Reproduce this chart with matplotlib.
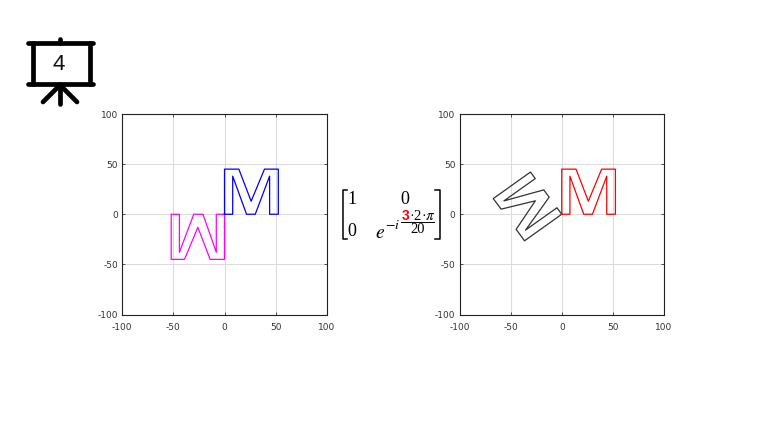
import numpy as np
import matplotlib.pyplot as plt

plt.switch_backend('Agg')
plt.rcParams['mathtext.fontset'] = 'stix'

# Outlines
m_x = [0, 0, 14, 26, 39, 52.5, 52.5, 44, 44, 30, 21.5, 8, 8, 0]
m_y = [0, 45, 45, 13, 45, 45, 0, 0, 38, 0, 0, 38, 0, 0]
w_x = [0, 0, -14, -26, -39, -52, -52, -44, -44, -30, -21, -8, -8, 0]
w_y = [0, -45, -45, -13, -45, -45, 0, 0, -38, 0, 0, -38, 0, 0]
rot_x = [0, -36.4, -44.6, -25.8, -59.3, -67, -30.6, -25.9, -56.6, -17.6, -12.3, -35.4, -4.7, 0]
rot_y = [0, -26.5, -15.1, 13.4, 5.1, 15.6, 42.1, 35.6, 13.3, 24.3, 17, -15.8, 6.5, 0]

ticks = [-100, -50, 0, 50, 100]
tick_labels = ['-100', '-50', '0', '50', '100']

W, H = 759, 426
fig = plt.figure(figsize=(W / 100, H / 100), dpi=100)


def make_axes(x0, x1, y0, y1):
    ax = fig.add_axes([x0 / W, 1 - y1 / H, (x1 - x0) / W, (y1 - y0) / H])
    ax.set_xlim(-100, 100)
    ax.set_ylim(-100, 100)
    ax.set_xticks(ticks)
    ax.set_yticks(ticks)
    ax.set_xticklabels(tick_labels)
    ax.set_yticklabels(tick_labels)
    ax.tick_params(direction='in', top=True, right=True, length=2.2, width=0.6,
                   labelsize=6.5, pad=3, colors='#333333')
    ax.tick_params(axis='x', pad=6)
    ax.grid(True, color='#dcdcdc', linewidth=0.8)
    ax.set_axisbelow(True)
    for s in ax.spines.values():
        s.set_linewidth(0.8)
        s.set_color('#222222')
    return ax


ax1 = make_axes(122, 327, 114, 314.5)
ax1.plot(w_x, w_y, color='#ff00ff', lw=0.9, solid_joinstyle='round')
ax1.plot(m_x, m_y, color='#0000ff', lw=0.9, solid_joinstyle='round')

ax2 = make_axes(459.5, 664, 114, 314.5)
ax2.plot(rot_x, rot_y, color='#333333', lw=0.9, solid_joinstyle='round')
ax2.plot(m_x, m_y, color='#ff0000', lw=0.9, solid_joinstyle='round')

# Overlay in pixel coordinates for the icon and the matrix
ov = fig.add_axes([0, 0, 1, 1], facecolor='none')
ov.set_xlim(0, W)
ov.set_ylim(H, 0)
ov.axis('off')

# Presentation board icon
lw = 3.4
for xs, ys in [([28, 93], [43, 43]), ([28, 93], [83.5, 83.5]),
               ([32.5, 32.5], [43, 83.5]), ([89.5, 89.5], [43, 83.5]),
               ([60, 60], [39, 43]), ([60, 60], [84, 104]),
               ([60, 43], [85, 102]), ([60, 77], [85, 102])]:
    ov.plot(xs, ys, color='black', lw=lw, solid_capstyle='round')
ov.text(59, 64, '4', fontsize=16, family='Liberation Sans', ha='center', va='center', color='#111111')

# Brackets
ov.plot([347, 342.5, 342.5, 347], [190, 190, 238.5, 238.5], color='black', lw=1.1)
ov.plot([435, 439.5, 439.5, 435], [190, 190, 238.5, 238.5], color='black', lw=1.1)

# Matrix entries
serif = 'Liberation Serif'
ov.text(352, 199, '1', fontsize=13, family=serif, ha='center', va='center')
ov.text(352, 231.5, '0', fontsize=13, family=serif, ha='center', va='center')
ov.text(405, 199, '0', fontsize=13, family=serif, ha='center', va='center')
ov.text(380.5, 232, r'$e$', fontsize=14, ha='center', va='center')
ov.text(393, 225, r'$-i$', fontsize=10, ha='center', va='center')
ov.text(405.5, 215.5, '3', fontsize=10, family='Liberation Sans', weight='bold', color='#ff0000',
        ha='center', va='center')
ov.text(411.5, 216, '·', fontsize=10, family=serif, ha='center', va='center')
ov.text(417.5, 216, '2', fontsize=10.5, family=serif, ha='center', va='center')
ov.text(423.5, 216, '·', fontsize=10, family=serif, ha='center', va='center')
ov.text(430, 216, r'$\pi$', fontsize=11, ha='center', va='center')
ov.plot([401, 434], [222, 222], color='black', lw=0.7)
ov.text(418, 229.5, '20', fontsize=10.5, family=serif, ha='center', va='center')

fig.savefig('out.png', dpi=100)
